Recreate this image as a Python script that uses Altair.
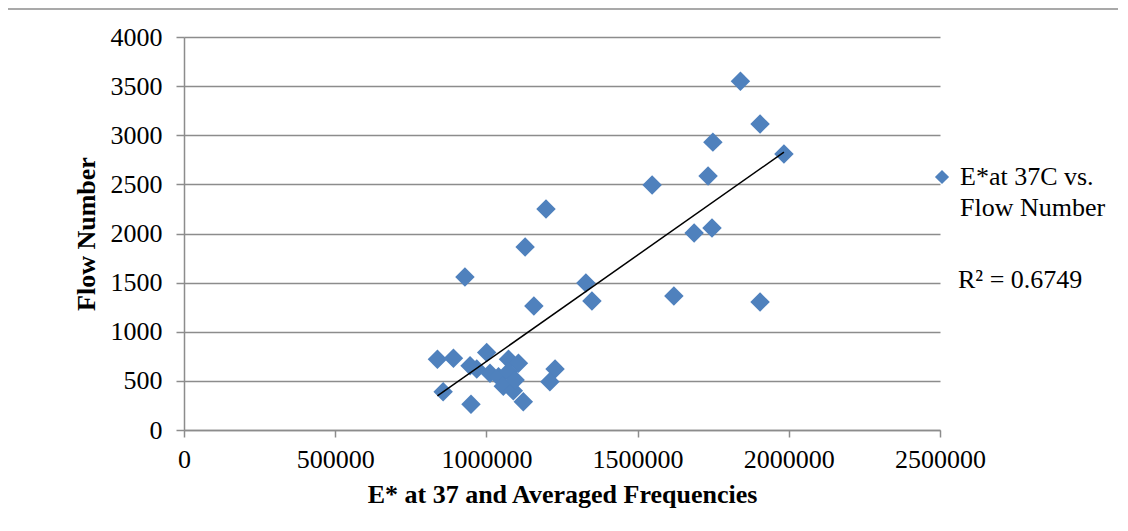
import altair as alt
import pandas as pd

# Data
e_star = [1840000, 1905000, 1984000, 1749000, 1733000, 1548000, 1687000, 1746000,
          1197000, 1128000, 929000, 1329000, 1349000, 1157000, 1620000, 1905000,
          838000, 891000, 1001000, 946000, 968000, 1073000, 1106000, 1012000,
          1040000, 1073000, 1056000, 1089000, 1122000, 1095000, 949000, 857000,
          1227000, 1210000]
flow = [3550, 3115, 2810, 2930, 2586, 2494, 2005, 2056,
        2250, 1863, 1557, 1496, 1313, 1262, 1364, 1303,
        720, 730, 790, 655, 620, 720, 679, 577,
        543, 594, 445, 400, 288, 509, 262, 390,
        621, 492]

x_ticks = [0, 500000, 1000000, 1500000, 2000000, 2500000]
y_ticks = [0, 500, 1000, 1500, 2000, 2500, 3000, 3500, 4000]
x_title = "E* at 37 and Averaged Frequencies"
y_title = "Flow Number"
legend_label = "E*at 37C vs.\nFlow Number"
r2_label = "R² = 0.6749"

df = pd.DataFrame({"E": e_star, "Flow": flow})

W, H = 756, 393
FONT = "Liberation Serif"
GRAY = "#8c8c8c"
BLUE = "#4f81bd"
FS = 26

x_enc = alt.X("E:Q", title=x_title,
              scale=alt.Scale(domain=[0, 2500000], nice=False, zero=True),
              axis=alt.Axis(values=x_ticks, format="d", grid=False, tickSize=7,
                            labelPadding=9, titlePadding=9, labelFlush=False,
                            labelOverlap=False))
y_enc = alt.Y("Flow:Q", title=y_title,
              scale=alt.Scale(domain=[0, 4000], nice=False),
              axis=alt.Axis(values=y_ticks, format="d", grid=True, tickSize=8,
                            labelPadding=14, titlePadding=11, labelFlush=False,
                            labelOverlap=False))

points = alt.Chart(df).mark_point(shape="diamond", filled=True, size=380,
                                  color=BLUE, opacity=1).encode(x=x_enc, y=y_enc)

trend = alt.Chart(df).transform_regression("E", "Flow").mark_line(
    color="black", strokeWidth=1.5).encode(x="E:Q", y="Flow:Q")

one = pd.DataFrame({"k": [0]})
legend_sym = alt.Chart(one).mark_point(shape="diamond", filled=True, size=200,
                                       color=BLUE, opacity=1).encode(
    x=alt.value(758), y=alt.value(140))
legend_txt = alt.Chart(one).mark_text(align="left", baseline="middle", font=FONT,
                                      fontSize=FS, lineBreak="\n", lineHeight=31,
                                      color="black").encode(
    x=alt.value(776), y=alt.value(140), text=alt.value(legend_label))
r2_txt = alt.Chart(one).mark_text(align="left", baseline="middle", font=FONT,
                                  fontSize=FS, color="black").encode(
    x=alt.value(774), y=alt.value(243), text=alt.value(r2_label))

border_top = alt.Chart(one).mark_rule(color=GRAY, strokeWidth=1.5).encode(
    x=alt.value(-177), x2=alt.value(W + 400), y=alt.value(-28))
border_left = alt.Chart(one).mark_rule(color=GRAY, strokeWidth=1.5).encode(
    x=alt.value(-177), y=alt.value(-28), y2=alt.value(H + 300))

chart = alt.layer(border_top, border_left, points, trend, legend_sym, legend_txt, r2_txt).properties(
    width=W, height=H,
    autosize=alt.AutoSizeParams(type="none"),
    padding={"left": 176, "top": 29, "right": 178, "bottom": 90},
).configure_view(strokeWidth=0).configure_axis(
    domainColor=GRAY, tickColor=GRAY, gridColor=GRAY, domainWidth=1.5, tickWidth=1.5,
    gridWidth=1.5, labelFont=FONT, titleFont=FONT, labelFontSize=FS, titleFontSize=FS,
    labelColor="black", titleColor="black", titleFontWeight="bold",
)

chart.save("out.html", embed_options={"renderer": "svg", "actions": False})
